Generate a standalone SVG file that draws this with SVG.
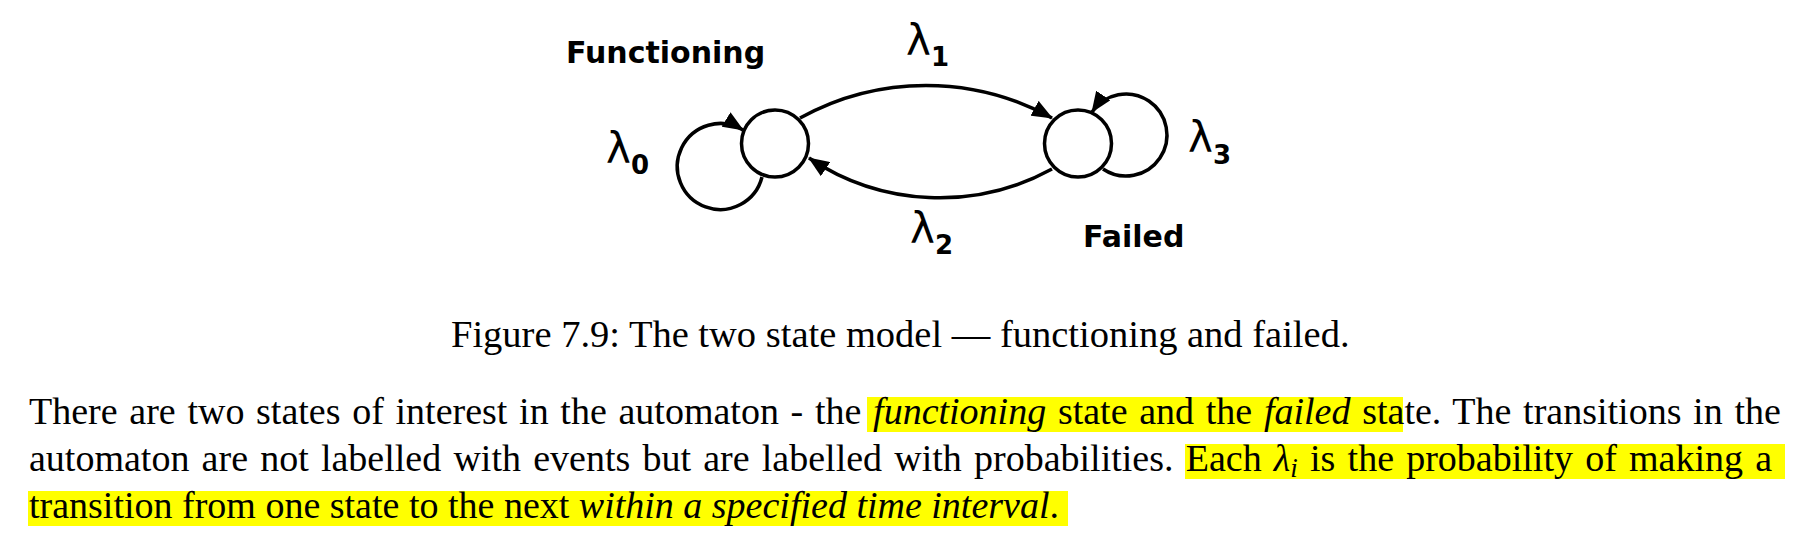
<svg xmlns="http://www.w3.org/2000/svg" width="1814" height="542" viewBox="0 0 1814 542">
<style>
.state{fill:#fff;stroke:#000;stroke-width:3.5}
.edge{fill:none;stroke:#000;stroke-width:3.5;marker-end:url(#ah)}
.lbl{font-family:"DejaVu Sans",sans-serif;font-weight:bold;font-size:30px;fill:#000}
.lam{font-family:"DejaVu Sans",sans-serif;font-size:42px;fill:#000}
.sub{font-family:"DejaVu Sans",sans-serif;font-weight:bold;font-size:26px}
.serif{font-family:"Liberation Serif","Times New Roman",serif;font-size:38px;fill:#000}
.it{font-style:italic}
.hl{fill:#ffff00}
</style>
<defs>
<marker id="ah" markerUnits="userSpaceOnUse" markerWidth="21" markerHeight="17" viewBox="0 0 21 17" refX="20" refY="8.5" orient="auto"><path d="M0,0 L21,8.5 L0,17 z" fill="#000"/></marker>
</defs>
<rect width="1814" height="542" fill="#fff"/>
<g id="connectors">
<path class="edge" d="M 762 177 A 43 43 0 1 1 743 130"/>
<path class="edge" d="M 1103 169 A 41 41 0 1 0 1092 112"/>
<path class="edge" d="M 800 118 A 260 260 0 0 1 1052 118"/>
<path class="edge" d="M 1052 169 A 234 234 0 0 1 809 158"/>
<text class="lam" x="606" y="163">λ<tspan class="sub" x="631" y="174">0</tspan></text>
<text class="lam" x="906" y="55">λ<tspan class="sub" x="931" y="66">1</tspan></text>
<text class="lam" x="910" y="243">λ<tspan class="sub" x="935" y="254">2</tspan></text>
<text class="lam" x="1188" y="152">λ<tspan class="sub" x="1213" y="164">3</tspan></text>
</g>
<g id="node-functioning">
<circle class="state" cx="775" cy="143.5" r="33.5"/>
<text class="lbl" x="566" y="63">Functioning</text>
</g>
<g id="node-failed">
<circle class="state" cx="1078" cy="143.5" r="33.5"/>
<text class="lbl" x="1083" y="247">Failed</text>
</g>
<text class="serif" x="451" y="347" style="font-size:38.5px">Figure 7.9: The two state model — functioning and failed.</text>
<rect class="hl" x="867" y="397" width="536" height="35"/>
<rect class="hl" x="1185" y="444" width="600" height="35"/>
<rect class="hl" x="28" y="491" width="1040" height="35"/>
<text class="serif" x="29" y="424" word-spacing="2.2">There are two states of interest in the automaton - the <tspan class="it">functioning</tspan> state and the <tspan class="it">failed</tspan> state. The transitions in the</text>
<text class="serif" x="29" y="471" word-spacing="2.7">automaton are not labelled with events but are labelled with probabilities. Each <tspan class="it">λ</tspan><tspan class="it" style="font-size:27px" dy="6">i</tspan><tspan dy="-6"> is the probability of making a</tspan></text>
<text class="serif" x="29" y="518">transition from one state to the next <tspan class="it">within a specified time interval</tspan>.</text>
</svg>
